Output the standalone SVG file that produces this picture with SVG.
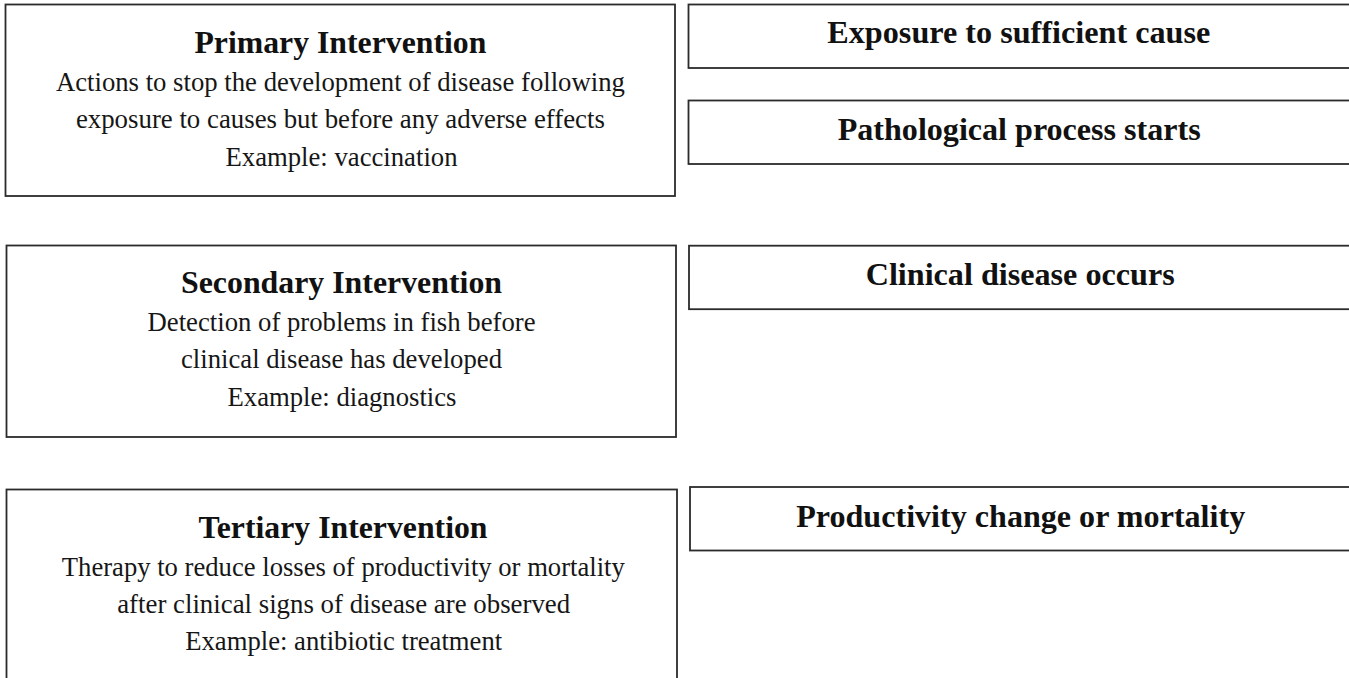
<svg xmlns="http://www.w3.org/2000/svg" width="1349" height="678" viewBox="0 0 1349 678">
<style>
.box{fill:#fff;stroke:#2b2b2b;stroke-width:1.8}
.t{font-family:"Liberation Serif","Times New Roman",serif;font-weight:bold;font-size:32px;fill:#111;text-anchor:middle}
.b{font-family:"Liberation Serif","Times New Roman",serif;font-size:28px;fill:#161616;text-anchor:middle}
</style>
<rect width="1349" height="678" fill="#fff"/>
<g id="primary">
<rect class="box" x="5.5" y="4.5" width="669.5" height="191.5"/>
<text class="t" x="340.4" y="52.7" textLength="292" lengthAdjust="spacingAndGlyphs">Primary Intervention</text>
<text class="b" x="340.4" y="90.7" textLength="569" lengthAdjust="spacingAndGlyphs">Actions to stop the development of disease following</text>
<text class="b" x="340.4" y="127.7" textLength="529" lengthAdjust="spacingAndGlyphs">exposure to causes but before any adverse effects</text>
<text class="b" x="341.5" y="165.7" textLength="232" lengthAdjust="spacingAndGlyphs">Example: vaccination</text>
</g>
<g id="secondary">
<rect class="box" x="6.5" y="245.5" width="669.5" height="191.5"/>
<text class="t" x="341.5" y="293.3" textLength="321" lengthAdjust="spacingAndGlyphs">Secondary Intervention</text>
<text class="b" x="341.5" y="330.5" textLength="388" lengthAdjust="spacingAndGlyphs">Detection of problems in fish before</text>
<text class="b" x="341.5" y="368.3" textLength="321" lengthAdjust="spacingAndGlyphs">clinical disease has developed</text>
<text class="b" x="342" y="405.7" textLength="229" lengthAdjust="spacingAndGlyphs">Example: diagnostics</text>
</g>
<g id="tertiary">
<rect class="box" x="6.5" y="489.5" width="670.5" height="200"/>
<text class="t" x="343" y="538.3" textLength="289" lengthAdjust="spacingAndGlyphs">Tertiary Intervention</text>
<text class="b" x="343.3" y="576" textLength="563" lengthAdjust="spacingAndGlyphs">Therapy to reduce losses of productivity or mortality</text>
<text class="b" x="343.7" y="613.3" textLength="453" lengthAdjust="spacingAndGlyphs">after clinical signs of disease are observed</text>
<text class="b" x="343.7" y="650" textLength="317" lengthAdjust="spacingAndGlyphs">Example: antibiotic treatment</text>
</g>
<g id="exposure">
<rect class="box" x="688.5" y="4.5" width="664" height="63.5"/>
<text class="t" x="1018.8" y="43.3" textLength="383" lengthAdjust="spacingAndGlyphs">Exposure to sufficient cause</text>
</g>
<g id="pathological">
<rect class="box" x="688.5" y="100.5" width="664" height="63.5"/>
<text class="t" x="1019.2" y="140" textLength="363" lengthAdjust="spacingAndGlyphs">Pathological process starts</text>
</g>
<g id="clinical">
<rect class="box" x="689" y="245.7" width="664" height="63.5"/>
<text class="t" x="1020.2" y="285" textLength="309" lengthAdjust="spacingAndGlyphs">Clinical disease occurs</text>
</g>
<g id="productivity">
<rect class="box" x="690" y="487" width="664" height="63.5"/>
<text class="t" x="1020.7" y="526.7" textLength="449" lengthAdjust="spacingAndGlyphs">Productivity change or mortality</text>
</g>
</svg>
